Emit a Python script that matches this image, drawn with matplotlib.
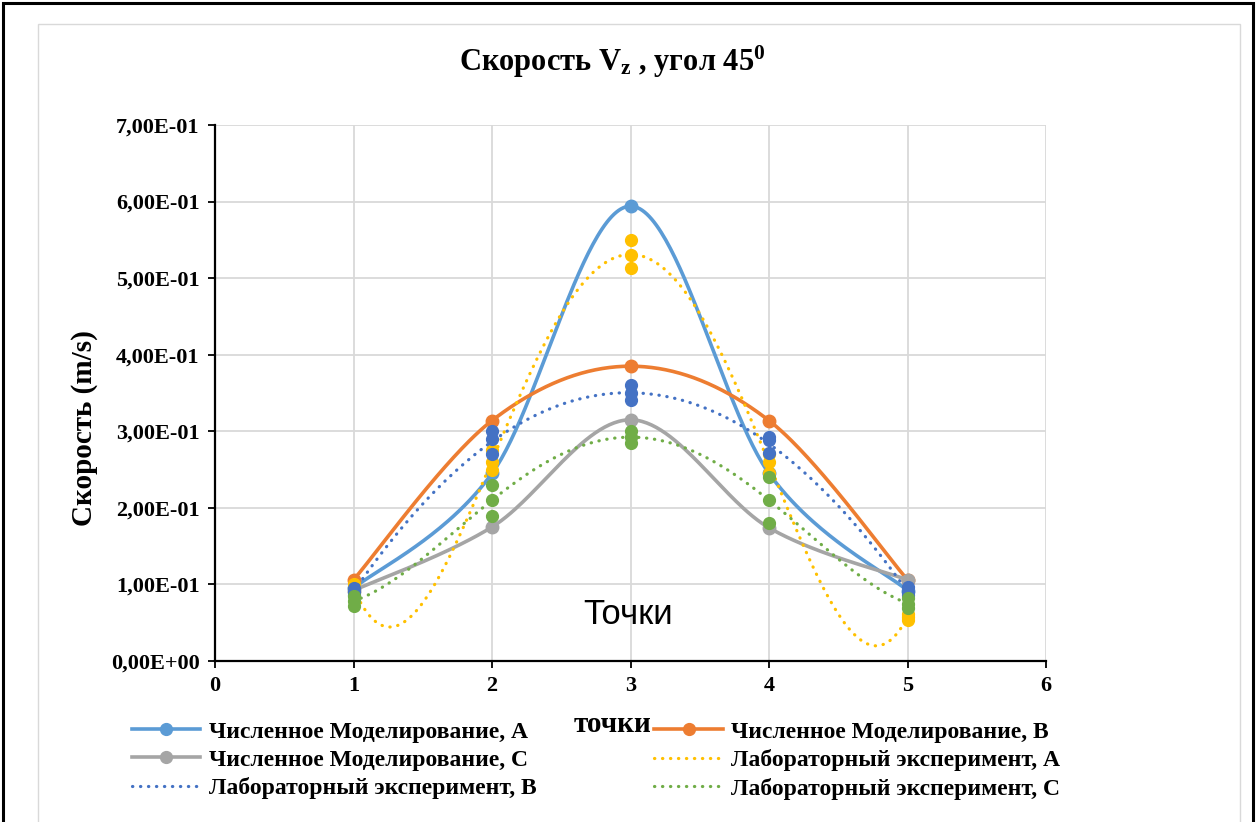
import numpy as np
import matplotlib
matplotlib.use("Agg")
import matplotlib.pyplot as plt
from matplotlib.patches import Rectangle
from matplotlib.lines import Line2D

# ---------------- data ----------------
points = [1, 2, 3, 4, 5]

num_A = [0.095, 0.245, 0.594, 0.245, 0.092]
num_B = [0.106, 0.314, 0.385, 0.314, 0.106]
num_C = [0.092, 0.175, 0.315, 0.174, 0.106]

lab_A = [[0.100, 0.095, 0.090],
         [0.275, 0.260, 0.250],
         [0.550, 0.530, 0.513],
         [0.270, 0.260, 0.245],
         [0.062, 0.058, 0.053]]
lab_B = [[0.095, 0.090, 0.086],
         [0.300, 0.290, 0.270],
         [0.360, 0.350, 0.341],
         [0.292, 0.288, 0.271],
         [0.096, 0.090, 0.086]]
lab_C = [[0.085, 0.078, 0.072],
         [0.230, 0.210, 0.190],
         [0.300, 0.292, 0.285],
         [0.240, 0.210, 0.180],
         [0.082, 0.075, 0.069]]

labels = ["Численное Моделирование, А", "Численное Моделирование, В",
          "Численное Моделирование, С", "Лабораторный эксперимент, А",
          "Лабораторный эксперимент, В", "Лабораторный эксперимент, С"]
colors = ["#5B9BD5", "#ED7D31", "#A5A5A5", "#FFC000", "#4472C4", "#70AD47"]

y_ticks = [0.0, 0.1, 0.2, 0.3, 0.4, 0.5, 0.6, 0.7]
x_ticks = [0, 1, 2, 3, 4, 5, 6]

# ---------------- style ----------------
plt.rcParams['font.family'] = ['Liberation Serif', 'DejaVu Serif']
plt.rcParams['mathtext.fontset'] = 'custom'
plt.rcParams['mathtext.rm'] = 'Liberation Serif'
plt.rcParams['mathtext.bf'] = 'Liberation Serif:bold'
plt.rcParams['mathtext.it'] = 'Liberation Serif:italic'

W, H = 1258, 822
fig = plt.figure(figsize=(W / 100, H / 100), dpi=100)
ax = fig.add_axes([215 / W, 1 - 661 / H, (1046 - 215) / W, (661 - 125) / H])
ax.set_xlim(0, 6)
ax.set_ylim(0, 0.7)
ax.set_xticks(x_ticks)
ax.set_yticks(y_ticks)
ax.set_xticklabels([str(v) for v in x_ticks], fontsize=16, fontweight='bold')
ax.set_yticklabels([f"{v:.2E}".replace('.', ',') for v in y_ticks],
                   fontsize=16, fontweight='bold')
ax.grid(True, color='#d9d9d9', lw=1.3, zorder=0)
ax.set_axisbelow(True)
for s in ['top', 'right']:
    ax.spines[s].set_visible(False)
for s in ['left', 'bottom']:
    ax.spines[s].set_linewidth(1.6)
    ax.spines[s].set_color('black')
ax.tick_params(axis='both', length=5, width=1.3, pad=6)


def excel_smooth(xs, ys, n=60):
    pts = ax.transData.transform(np.column_stack([xs, ys]))
    m = len(pts)
    out = []
    for i in range(m - 1):
        p0 = pts[i - 1] if i > 0 else pts[i]
        p1 = pts[i]
        p2 = pts[i + 1]
        p3 = pts[i + 2] if i + 2 < m else pts[i + 1]
        d12 = np.linalg.norm(p2 - p1)
        d02 = np.linalg.norm(p2 - p0)
        d13 = np.linalg.norm(p3 - p1)
        f1 = 1 / 6 if d02 / 6 < d12 / 2 else d12 / (2 * d02)
        f2 = 1 / 6 if d13 / 6 < d12 / 2 else d12 / (2 * d13)
        c1 = p1 + (p2 - p0) * f1
        c2 = p2 - (p3 - p1) * f2
        t = np.linspace(0, 1, n)[:, None]
        seg = ((1 - t) ** 3) * p1 + 3 * ((1 - t) ** 2) * t * c1 + \
            3 * (1 - t) * t ** 2 * c2 + t ** 3 * p2
        out.append(seg if i == 0 else seg[1:])
    out = np.vstack(out)
    data = ax.transData.inverted().transform(out)
    return data[:, 0], data[:, 1]


handles = {}
# numerical series (smoothed lines with markers)
for k, ys in enumerate([num_A, num_B, num_C]):
    sx, sy = excel_smooth(points, ys)
    ax.plot(sx, sy, color=colors[k], lw=2.6, zorder=3 + k, solid_capstyle='round')
    ax.plot(points, ys, 'o', color=colors[k], ms=9, zorder=3 + k)
    handles[k] = Line2D([], [], color=colors[k], lw=2.6, marker='o', ms=8.5)

# lab series: markers + polynomial (order 4) trendline, dotted
xfine = np.linspace(1, 5, 400)
for k, data in enumerate([lab_A, lab_B, lab_C]):
    c = colors[3 + k]
    xs = np.repeat(points, 3)
    ys = np.array(data).ravel()
    coef = np.polyfit(xs, ys, 4)
    ax.plot(xfine, np.polyval(coef, xfine), color=c, lw=2.3,
            linestyle=(0, (0.1, 2.4)), dash_capstyle='round', zorder=6 + k)
    ax.plot(xs, ys, 'o', color=c, ms=8.5, zorder=6 + k)
    handles[3 + k] = Line2D([], [], color=c, lw=2.3, linestyle=(0, (0.1, 2.4)),
                            dash_capstyle='round')

order = [0, 2, 4, 1, 3, 5]
fig.legend([handles[i] for i in order], [labels[i] for i in order],
           loc='upper left', bbox_to_anchor=(132 / W, 1 - 721 / H), ncol=2,
           frameon=False, prop={'family': 'Liberation Serif', 'weight': 'bold', 'size': 17},
           handlelength=2.9, handletextpad=0.35, columnspacing=5.0,
           labelspacing=0.28, borderpad=0, borderaxespad=0)

# texts
fig.text(612 / W, 1 - 62 / H, "Скорость V$_\\mathbf{z}$ , угол 45$^\\mathbf{0}$",
         ha='center', va='center', fontsize=22, fontweight='bold')
fig.text(85 / W, 1 - 428 / H, "Скорость (m/s)", rotation=90, ha='center',
         va='center', fontsize=21, fontweight='bold')
fig.text(613 / W, 1 - 724 / H, "точки", ha='center', va='center',
         fontsize=21, fontweight='bold')
fig.text(628 / W, 1 - 614 / H, "Точки", ha='center', va='center',
         fontsize=25, family='Liberation Sans')

# frames
fig.patches.append(Rectangle((38 / W, -0.1), (1240 - 38) / W, 1.1 - 24 / H,
                             transform=fig.transFigure, fill=False,
                             edgecolor='#d9d9d9', lw=1.0, zorder=0))
fig.patches.append(Rectangle((3 / W, -0.1), (1253 - 3) / W, 1.1 - 3 / H,
                             transform=fig.transFigure, fill=False,
                             edgecolor='black', lw=2.2, zorder=0))

fig.savefig("out.png", dpi=100)
